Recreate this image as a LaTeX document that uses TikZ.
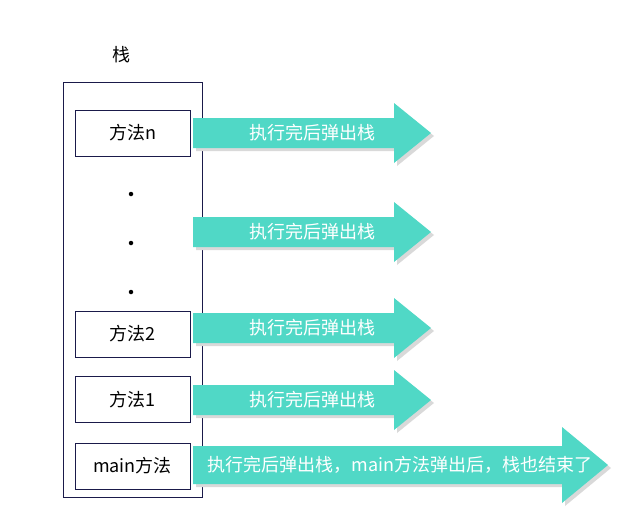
\documentclass[tikz,border=0pt]{standalone}
\usepackage{fontspec}
\setmainfont{Noto Sans CJK SC}
\definecolor{teal1}{HTML}{50D8C6}
\definecolor{navy1}{HTML}{1A1A4A}
\definecolor{shade1}{HTML}{D9D9D9}
\newcommand\popArrow[8]{%
  \fill[shade1,shift={(3,3)}] (193,#2-#5) -- (#3,#2-#5) -- (#3,#2-#6) -- (#4,#2) -- (#3,#2+#6) -- (#3,#2+#5) -- (193,#2+#5) -- cycle;
  \fill[teal1] (193,#2-#5) -- (#3,#2-#5) -- (#3,#2-#6) -- (#4,#2) -- (#3,#2+#6) -- (#3,#2+#5) -- (193,#2+#5) -- cycle;
  \node[arrowtext] (#1) at (#8,#2) {#7};%
}
\begin{document}
\begin{tikzpicture}[x=1pt,y=-1pt,
  method/.style={draw=navy1, line width=0.8pt, minimum width=115, minimum height=46, inner sep=0pt, font=\fontsize{18}{21}\selectfont, text=black},
  arrowtext/.style={text=white, inner sep=0pt, font=\fontsize{18}{21}\selectfont},
  stackdot/.style={circle, fill=black, inner sep=0pt, minimum size=4.5}]
\useasboundingbox (0,0) rectangle (637,525);
\node[font=\fontsize{18}{21}\selectfont] (title) at (121,55) {栈};
\node[draw=navy1, line width=0.8pt, minimum width=139, minimum height=415, inner sep=0pt] (stack) at (132.5,289.5) {};
\node[method] (mn) at (132.5,133) {方法n};
\node[method] (m2) at (132.5,334) {方法2};
\node[method] (m1) at (132.5,399.5) {方法1};
\node[method] (mm) at (132.5,466) {main方法};
\node[stackdot] (d1) at (131,194) {};
\node[stackdot] (d2) at (131,243) {};
\node[stackdot] (d3) at (131,292) {};
\popArrow{a1}{133}{394}{431}{15}{30}{执行完后弹出栈}{312}
\popArrow{a2}{232}{394}{431}{15}{30}{执行完后弹出栈}{312}
\popArrow{a3}{328}{394}{431}{15}{30}{执行完后弹出栈}{312}
\popArrow{a4}{400}{394}{431}{15}{30}{执行完后弹出栈}{312}
\popArrow{a5}{465}{562}{608}{19}{38}{执行完后弹出栈，main方法弹出后，栈也结束了}{400}
\end{tikzpicture}
\end{document}
